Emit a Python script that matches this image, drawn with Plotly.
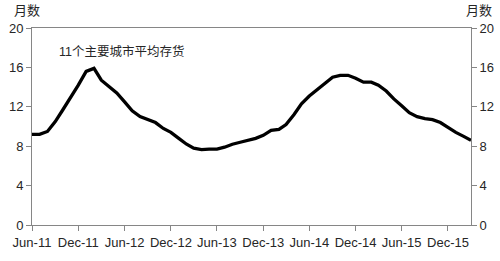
import plotly.graph_objects as go
import pandas as pd

months = pd.date_range("2011-06-01", periods=58, freq="MS").strftime("%Y-%m-%d").tolist()
inventory = [9.2, 9.2, 9.5, 10.5, 11.7, 12.9, 14.2, 15.6, 15.9, 14.7,
             14.0, 13.4, 12.5, 11.6, 11.0, 10.7, 10.4, 9.8, 9.4, 8.8,
             8.2, 7.8, 7.65, 7.7, 7.7, 7.9, 8.2, 8.4, 8.6, 8.8,
             9.1, 9.6, 9.7, 10.2, 11.2, 12.3, 13.1, 13.7, 14.4, 15.0,
             15.2, 15.2, 14.9, 14.5, 14.5, 14.2, 13.6, 12.8, 12.1, 11.4,
             11.0, 10.8, 10.7, 10.4, 9.9, 9.4, 9.0, 8.6]
tick_dates = ["2011-06-01", "2011-12-01", "2012-06-01", "2012-12-01", "2013-06-01",
              "2013-12-01", "2014-06-01", "2014-12-01", "2015-06-01", "2015-12-01"]
tick_labels = ["Jun-11", "Dec-11", "Jun-12", "Dec-12", "Jun-13",
               "Dec-13", "Jun-14", "Dec-14", "Jun-15", "Dec-15"]
y_ticks = [0, 4, 8, 12, 16, 20]
series_name = "11个主要城市平均存货"
unit = "月数"

FONT = "Arial, 'Liberation Sans', 'Noto Sans CJK SC', sans-serif"
AX = "#868686"
TXT = "#262626"

fig = go.Figure()
fig.add_trace(go.Scatter(x=months, y=inventory, mode="lines",
                         line=dict(color="black", width=3.3), name=series_name,
                         showlegend=False))
# invisible trace for right axis
fig.add_trace(go.Scatter(x=months[:1], y=[0], yaxis="y2", mode="markers",
                         marker=dict(opacity=0), showlegend=False, hoverinfo="skip"))

fig.update_layout(
    width=500, height=261,
    margin=dict(l=32, r=29, t=28, b=36),
    paper_bgcolor="white", plot_bgcolor="white",
    font=dict(family=FONT, size=13, color=TXT),
    xaxis=dict(type="date", range=["2011-06-01", "2016-03-01"],
               tickvals=tick_dates, ticktext=tick_labels, automargin=False,
               showgrid=False, zeroline=False,
               showline=True, linecolor=AX, linewidth=1, mirror=True,
               ticks="outside", ticklen=5, tickcolor=AX,
               tickfont=dict(size=13, color=TXT)),
    yaxis=dict(range=[0, 20], tickvals=y_ticks, showgrid=False, zeroline=False,
               automargin=False,
               showline=True, linecolor=AX, linewidth=1,
               ticks="outside", ticklen=5, tickcolor=AX,
               tickfont=dict(size=13, color=TXT)),
    yaxis2=dict(range=[0, 20], tickvals=y_ticks, overlaying="y", side="right",
                showgrid=False, zeroline=False, automargin=False,
                showline=True, linecolor=AX, linewidth=1,
                ticks="outside", ticklen=5, tickcolor=AX,
                tickfont=dict(size=13, color=TXT)),
    annotations=[
        dict(text=unit, xref="paper", yref="paper", x=-0.012, y=1.0, yshift=8,
             xanchor="center", yanchor="bottom", showarrow=False,
             font=dict(size=13, color=TXT)),
        dict(text=unit, xref="paper", yref="paper", x=1.018, y=1.0, yshift=8,
             xanchor="center", yanchor="bottom", showarrow=False,
             font=dict(size=13, color=TXT)),
        dict(text=series_name, xref="paper", yref="paper", x=0.058, y=0.88,
             xanchor="left", yanchor="middle", showarrow=False,
             font=dict(size=12.5, color=TXT)),
    ],
)

fig.write_html("out.html")
